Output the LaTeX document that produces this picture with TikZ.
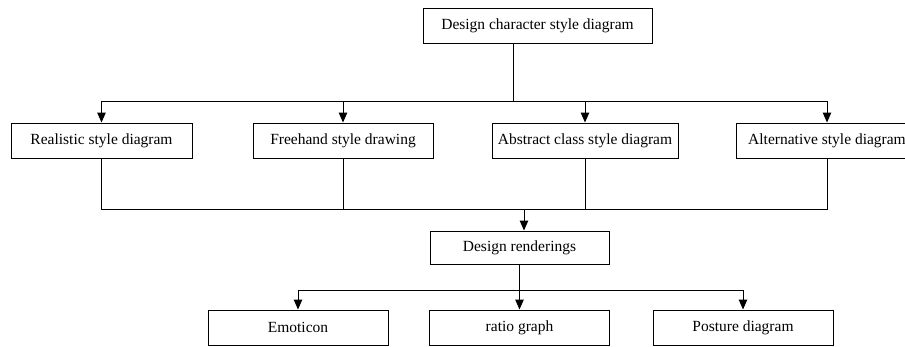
\documentclass[tikz,border=0pt]{standalone}
\usepackage{fontspec}
\setmainfont{Liberation Serif}
\usepackage{tikz}
\usetikzlibrary{arrows.meta,positioning,calc}

\begin{document}
\begin{tikzpicture}[x=1pt,y=-1pt,line width=1pt,
  font=\fontsize{15.5}{18}\selectfont,
  box/.style={draw,rectangle,inner sep=4pt,minimum height=35pt,minimum width=180pt},
  arr/.style={-{Triangle[length=10pt,width=8.5pt]}}]
\useasboundingbox (0,0) rectangle (905,346);
\node[box,minimum width=229pt] (style) at (537.5,25.5) {Design character style diagram};
\node[box,minimum width=181pt] (real) at (101.5,140.5) {Realistic style diagram};
\node[box] (free) at (343,140.5) {Freehand style drawing};
\node[box,minimum width=186pt] (abst) at (585,140.5) {Abstract class style diagram};
\node[box,minimum width=182pt] (alt) at (827,140.5) {Alternative style diagram};
\node[box,minimum width=179pt,minimum height=33pt] (rend) at (519.5,247.5) {Design renderings};
\node[box] (emo) at (298,327.5) {Emoticon};
\node[box] (ratio) at (519.5,327.5) {ratio graph};
\node[box] (post) at (743,327.5) {Posture diagram};
\coordinate (split) at (513,101);
\coordinate (join) at (524,209);
\coordinate (fork) at (519.5,290);
% top level to the four styles
\draw (style.south -| split) -- (split);
\foreach \n in {real,free,abst,alt}
  \draw[arr] (split) -| (\n);
% styles collected into the renderings
\foreach \n in {real,free,abst,alt}
  \draw (\n) |- (join);
\draw[arr] (join) -- (join |- rend.north);
% renderings to the three outputs
\draw (rend) -- (fork);
\foreach \n in {emo,ratio,post}
  \draw[arr] (fork) -| (\n);
\end{tikzpicture}
\end{document}
